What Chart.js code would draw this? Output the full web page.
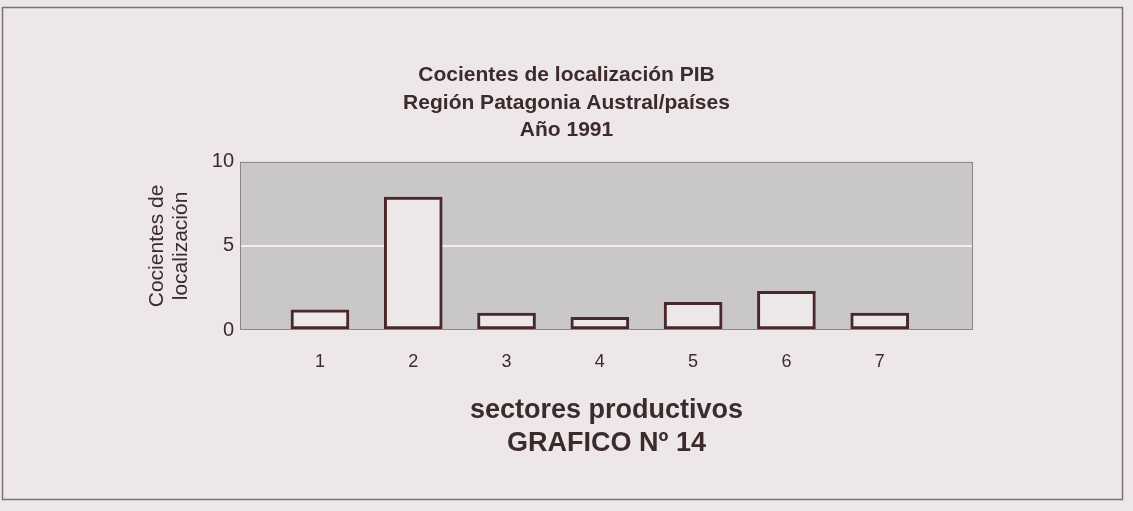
<!DOCTYPE html>
<html>
<head>
<meta charset="utf-8">
<script src="https://cdn.jsdelivr.net/npm/chart.js@4/dist/chart.umd.min.js"></script>
<style>
  html, body { margin: 0; padding: 0; background: #ede7ea; }
  #wrap { width: 1133px; height: 511px; }
</style>
</head>
<body>
<div id="wrap"><canvas id="grafico"></canvas></div>
<script>
const sectores = [1, 2, 3, 4, 5, 6, 7];
const cocientes = [1.2, 7.9, 1.0, 0.75, 1.65, 2.3, 1.0];
const yTicks = [0, 5, 10];
const tituloLineas = ["Cocientes de localización PIB", "Región Patagonia Austral/países", "Año 1991"];
const ejeY = ["Cocientes de", "localización"];
const ejeX = ["sectores productivos", "GRAFICO Nº 14"];

const tinta = "#3d2a2b";
const fuente = "'Liberation Sans', Arial, Helvetica, sans-serif";

// fondo de página, marco exterior y área gris del gráfico
const fondo = {
  id: "fondo",
  beforeDraw(chart) {
    const { ctx, chartArea: a } = chart;
    ctx.save();
    ctx.fillStyle = "#ede7ea";
    ctx.fillRect(0, 0, chart.width, chart.height);
    ctx.strokeStyle = "#7d7274";
    ctx.lineWidth = 1.5;
    ctx.strokeRect(2.5, 7.5, 1120, 492);
    ctx.fillStyle = "#cac7c8";
    ctx.fillRect(a.left, a.top, a.right - a.left, a.bottom - a.top);
    ctx.restore();
  },
  afterDatasetsDraw(chart) {
    const { ctx, chartArea: a } = chart;
    ctx.save();
    ctx.strokeStyle = "#8d8486";
    ctx.lineWidth = 1;
    ctx.strokeRect(a.left + 0.5, a.top + 0.5, a.right - a.left - 1, a.bottom - a.top - 1);
    ctx.restore();
  }
};

new Chart(document.getElementById("grafico"), {
  type: "bar",
  data: {
    datasets: [{
      data: sectores.map((s, i) => ({ x: s, y: cocientes[i] })),
      backgroundColor: "#ece7e9",
      borderColor: "#4a2829",
      borderWidth: 3,
      borderSkipped: false,
      barThickness: 58
    }]
  },
  options: {
    responsive: true,
    maintainAspectRatio: false,
    animation: false,
    layout: { padding: 0 },
    plugins: {
      legend: { display: false },
      tooltip: { enabled: false },
      title: {
        display: true,
        text: tituloLineas,
        color: tinta,
        font: { family: fuente, size: 21, weight: "bold", lineHeight: 1.3 },
        padding: { top: 62, bottom: 18 }
      }
    },
    scales: {
      x: {
        type: "linear",
        offset: false,
        min: 0.143,
        max: 8,
        afterBuildTicks: (scale) => { scale.ticks = sectores.map(v => ({ value: v })); },
        afterFit: (scale) => { scale.height = 181; },
        grid: { display: false, drawTicks: false },
        border: { display: false },
        ticks: {
          color: tinta,
          padding: 21,
          font: { family: fuente, size: 18 }
        },
        title: {
          display: true,
          text: ejeX,
          color: tinta,
          font: { family: fuente, size: 27, weight: "bold", lineHeight: 1.22 },
          padding: { top: 0, bottom: 51 }
        }
      },
      y: {
        min: 0,
        max: 10,
        afterBuildTicks: (scale) => { scale.ticks = yTicks.map(v => ({ value: v })); },
        afterFit: (scale) => { scale.width = 240; },
        grid: {
          drawTicks: false,
          lineWidth: 2,
          color: (c) => (c.tick && c.tick.value === 5 ? "#f2eeef" : "rgba(0,0,0,0)")
        },
        border: { display: false },
        ticks: {
          color: tinta,
          padding: 6,
          font: { family: fuente, size: 20 }
        },
        title: {
          display: true,
          text: ejeY,
          color: tinta,
          font: { family: fuente, size: 21, lineHeight: 1.15 },
          padding: { top: 145, bottom: 0 }
        }
      },
      margen: {
        type: "linear",
        position: "right",
        min: 0,
        max: 10,
        afterFit: (scale) => { scale.width = 160; },
        grid: { display: false, drawTicks: false },
        border: { display: false },
        ticks: { display: false }
      }
    }
  },
  plugins: [fondo]
});
</script>
</body>
</html>
